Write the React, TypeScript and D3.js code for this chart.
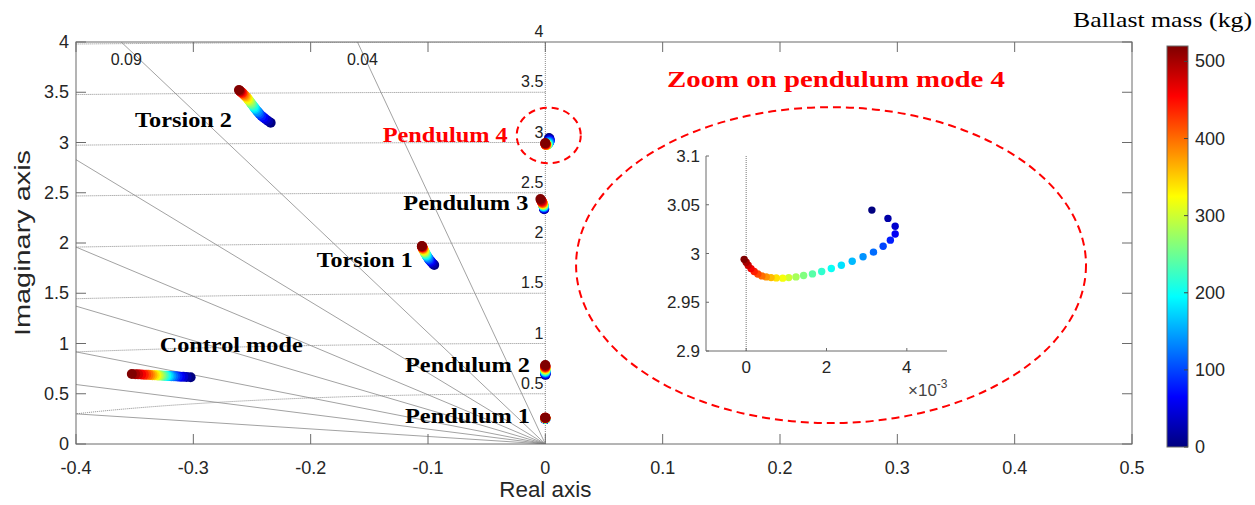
import React from 'react';
import * as d3 from 'd3';

// ---------- DATA ----------
const massValues = [0, 20, 40, 60, 80, 100, 120, 140, 160, 180, 200, 220, 240, 260, 280, 300, 320, 340, 360, 380, 400, 420, 440, 460, 480, 500, 520];

const controlRe = [-0.3023, -0.3057, -0.3086, -0.3112, -0.3134, -0.3154, -0.3171, -0.3188, -0.3203, -0.3217, -0.3231, -0.3245, -0.3259, -0.3274, -0.3288, -0.3302, -0.3316, -0.3331, -0.3348, -0.3365, -0.3382, -0.3402, -0.3422, -0.3444, -0.3470, -0.3495, -0.3524];
const controlIm = [0.664, 0.666, 0.668, 0.670, 0.671, 0.673, 0.674, 0.675, 0.676, 0.677, 0.678, 0.679, 0.680, 0.681, 0.681, 0.682, 0.683, 0.684, 0.685, 0.687, 0.688, 0.689, 0.690, 0.692, 0.693, 0.695, 0.697];

const torsion2Re = [-0.2341, -0.2363, -0.2383, -0.2403, -0.2420, -0.2435, -0.2446, -0.2457, -0.2469, -0.2477, -0.2486, -0.2494, -0.2503, -0.2511, -0.2520, -0.2528, -0.2537, -0.2545, -0.2554, -0.2563, -0.2571, -0.2580, -0.2585, -0.2594, -0.2600, -0.2605, -0.2611];
const torsion2Im = [3.197, 3.214, 3.231, 3.250, 3.267, 3.284, 3.300, 3.313, 3.330, 3.343, 3.357, 3.370, 3.383, 3.396, 3.410, 3.423, 3.436, 3.449, 3.459, 3.469, 3.479, 3.489, 3.496, 3.502, 3.509, 3.516, 3.522];

const torsion1Re = [-0.0947, -0.0958, -0.0970, -0.0978, -0.0987, -0.0993, -0.0998, -0.1004, -0.1010, -0.1013, -0.1018, -0.1021, -0.1024, -0.1027, -0.1030, -0.1032, -0.1035, -0.1038, -0.1041, -0.1044, -0.1044, -0.1047, -0.1047, -0.1049, -0.1049, -0.1052, -0.1052];
const torsion1Im = [1.781, 1.794, 1.808, 1.821, 1.831, 1.841, 1.851, 1.861, 1.871, 1.877, 1.887, 1.894, 1.900, 1.907, 1.914, 1.920, 1.927, 1.934, 1.940, 1.944, 1.950, 1.954, 1.957, 1.960, 1.963, 1.967, 1.970];

const pendulum3Re = [-0.0010, -0.0010, -0.0011, -0.0011, -0.0012, -0.0012, -0.0013, -0.0013, -0.0014, -0.0014, -0.0015, -0.0016, -0.0016, -0.0017, -0.0018, -0.0019, -0.0020, -0.0021, -0.0022, -0.0024, -0.0025, -0.0027, -0.0029, -0.0031, -0.0034, -0.0037, -0.0042];
const pendulum3Im = [2.335, 2.340, 2.344, 2.348, 2.352, 2.356, 2.359, 2.362, 2.365, 2.368, 2.371, 2.374, 2.377, 2.380, 2.383, 2.386, 2.389, 2.392, 2.395, 2.398, 2.401, 2.405, 2.410, 2.415, 2.421, 2.428, 2.437];

const pendulum2Re = [0.0001, 0.0001, 0.0001, 0.0001, 0.0001, 0.0001, 0.0000, 0.0000, 0.0000, 0.0000, 0.0000, 0.0000, 0.0000, 0.0000, 0.0000, 0.0000, 0.0000, 0.0000, 0.0000, 0.0000, 0.0000, 0.0000, 0.0000, 0.0000, 0.0000, 0.0000, 0.0000];
const pendulum2Im = [0.688, 0.693, 0.697, 0.701, 0.705, 0.709, 0.713, 0.716, 0.720, 0.723, 0.727, 0.730, 0.734, 0.737, 0.741, 0.744, 0.748, 0.751, 0.755, 0.758, 0.762, 0.765, 0.769, 0.772, 0.776, 0.780, 0.786];

const pendulum1Re = [0.0000, 0.0000, 0.0000, 0.0000, 0.0000, 0.0000, 0.0000, 0.0000, 0.0000, 0.0000, 0.0000, 0.0000, 0.0000, 0.0000, 0.0000, 0.0000, 0.0000, 0.0000, 0.0000, 0.0000, 0.0000, 0.0000, 0.0000, 0.0000, 0.0000, 0.0000, 0.0000];
const pendulum1Im = [0.248, 0.249, 0.249, 0.250, 0.250, 0.251, 0.251, 0.252, 0.252, 0.253, 0.253, 0.254, 0.254, 0.255, 0.255, 0.256, 0.256, 0.257, 0.257, 0.258, 0.258, 0.259, 0.259, 0.260, 0.260, 0.261, 0.262];

// pendulum 4, real part in units of 1e-3
const pendulum4ReMilli = [3.13, 3.53, 3.71, 3.71, 3.59, 3.41, 3.17, 2.91, 2.64, 2.37, 2.12, 1.88, 1.65, 1.43, 1.24, 1.06, 0.91, 0.75, 0.62, 0.50, 0.39, 0.29, 0.20, 0.12, 0.05, 0.00, -0.05];
const pendulum4Im = [3.0445, 3.036, 3.028, 3.020, 3.0137, 3.0075, 3.0014, 2.9966, 2.9921, 2.988, 2.9846, 2.9815, 2.9791, 2.9774, 2.976, 2.9753, 2.9747, 2.975, 2.9753, 2.976, 2.977, 2.979, 2.9815, 2.9845, 2.988, 2.991, 2.994];

const xTicks = [-0.4, -0.3, -0.2, -0.1, 0, 0.1, 0.2, 0.3, 0.4, 0.5];
const yTicks = [0, 0.5, 1, 1.5, 2, 2.5, 3, 3.5, 4];
const dampingValues = [0.04, 0.09, 0.14, 0.2, 0.28, 0.4, 0.56, 0.8];
const frequencyValues = [0.5, 1, 1.5, 2, 2.5, 3, 3.5, 4];
const colorbarTicks = [0, 100, 200, 300, 400, 500];
const insetXTicks = [0, 2, 4];
const insetYTicks = [2.9, 2.95, 3, 3.05, 3.1];

const modeLabels = [
  { text: 'Torsion 2', x: -0.3497, y: 3.157, w: 97, color: '#000' },
  { text: 'Torsion 1', x: -0.1948, y: 1.764, w: 96, color: '#000' },
  { text: 'Pendulum 3', x: -0.1210, y: 2.328, w: 125, color: '#000' },
  { text: 'Pendulum 4', x: -0.1386, y: 3.008, w: 125, color: '#ff0000' },
  { text: 'Pendulum 2', x: -0.1196, y: 0.719, w: 125, color: '#000' },
  { text: 'Pendulum 1', x: -0.1196, y: 0.206, w: 125, color: '#000' },
  { text: 'Control mode', x: -0.3287, y: 0.918, w: 143, color: '#000' },
];

// ---------- LAYOUT ----------
const W = 1255, H = 505;
const plot = { left: 76, right: 1132, top: 42, bottom: 444 };
const inset = { left: 706, right: 947, top: 156, bottom: 351 };
const cbar = { left: 1167, right: 1188, top: 46, bottom: 447 };
const massMax = 520;
const sans = 'Liberation Sans, Arial, Helvetica, sans-serif';
const serif = 'Liberation Serif, Times New Roman, serif';
const axisColor = '#6b6b6b';

function jet(t: number): string {
  const c = (v: number) => Math.max(0, Math.min(1, v));
  const r = c(1.5 - Math.abs(4 * t - 3));
  const g = c(1.5 - Math.abs(4 * t - 2));
  const b = c(1.5 - Math.abs(4 * t - 1));
  return d3.rgb(r * 255, g * 255, b * 255).formatHex();
}

export default function App() {
  const x = d3.scaleLinear().domain([-0.4, 0.5]).range([plot.left, plot.right]);
  const y = d3.scaleLinear().domain([0, 4]).range([plot.bottom, plot.top]);
  const xi = d3.scaleLinear().domain([-1, 5]).range([inset.left, inset.right]);
  const yi = d3.scaleLinear().domain([2.9, 3.1]).range([inset.bottom, inset.top]);
  const yc = d3.scaleLinear().domain([0, massMax]).range([cbar.bottom, cbar.top]);
  const color = (m: number) => jet(m / massMax);

  const modes = [
    { re: controlRe, im: controlIm },
    { re: torsion2Re, im: torsion2Im },
    { re: torsion1Re, im: torsion1Im },
    { re: pendulum3Re, im: pendulum3Im },
    { re: pendulum2Re, im: pendulum2Im },
    { re: pendulum1Re, im: pendulum1Im },
    { re: pendulum4ReMilli.map((v) => v / 1000), im: pendulum4Im },
  ];

  // frequency semicircles
  const circleLine = d3.line<[number, number]>().x((d) => x(d[0])).y((d) => y(d[1]));
  const freqPaths = frequencyValues.map((w) => {
    const xmin = Math.max(-0.4, -w);
    const pts: [number, number][] = d3.range(0, 201).map((i) => {
      const xv = (xmin * i) / 200;
      return [xv, Math.sqrt(Math.max(0, w * w - xv * xv))];
    });
    return { w, d: circleLine(pts) };
  });

  // damping rays
  const rays = dampingValues.map((z) => {
    const s = Math.sqrt(1 - z * z);
    const r = Math.min(0.4 / z, 4 / s);
    return { z, x2: -z * r, y2: s * r, top: 4 / s <= 0.4 / z };
  });

  const gradId = 'jetgrad';
  const gradStops = d3.range(0, 65).map((i) => i / 64);

  // Pendulum 4 zoom annotations in data units
  const smallEll = { cx: 0.0029, cy: 3.07, rx: 0.0273, ry: 0.277 };
  const bigEll = { cx: 0.2435, cy: 1.78, rx: 0.2173, ry: 1.572 };

  return (
    <svg width={W} height={H} style={{ position: 'absolute', left: 0, top: 0, background: '#fff' }}>
      <defs>
        <linearGradient id={gradId} x1="0" y1="1" x2="0" y2="0">
          {gradStops.map((t) => (
            <stop key={t} offset={t} stopColor={jet(t)} />
          ))}
        </linearGradient>
        <clipPath id="plotclip">
          <rect x={plot.left} y={plot.top} width={plot.right - plot.left} height={plot.bottom - plot.top} />
        </clipPath>
      </defs>
      <rect x={0} y={0} width={W} height={H} fill="#fff" />

      {/* grid */}
      <g clipPath="url(#plotclip)">
        {rays.map((r) => (
          <line key={r.z} x1={x(0)} y1={y(0)} x2={x(r.x2)} y2={y(r.y2)} stroke="#7a7a7a" strokeWidth={0.7} />
        ))}
        {freqPaths.map((p) => (
          <path key={p.w} d={p.d || ''} fill="none" stroke="#8a8a8a" strokeWidth={1} strokeDasharray="1,1" />
        ))}
        <line x1={x(0)} y1={y(0)} x2={x(0)} y2={y(4)} stroke="#8a8a8a" strokeWidth={1} strokeDasharray="1,1" />
      </g>
      {rays.filter((r) => r.top).map((r) => (
        <text key={r.z} x={x(r.x2) + 5} y={plot.top + 23} fontFamily={sans} fontSize={16} textAnchor="middle" fill="#222">
          {String(r.z)}
        </text>
      ))}
      {frequencyValues.map((w) => (
        <text key={w} x={x(0) - 2} y={y(w) - 5} fontFamily={sans} fontSize={16} textAnchor="end" fill="#222">
          {String(w)}
        </text>
      ))}

      {/* axes box */}
      <rect x={plot.left} y={plot.top} width={plot.right - plot.left} height={plot.bottom - plot.top} fill="none" stroke={axisColor} strokeWidth={1} />
      {xTicks.map((t) => (
        <g key={'xt' + t}>
          <line x1={x(t)} x2={x(t)} y1={plot.bottom} y2={plot.bottom - 10} stroke={axisColor} />
          <line x1={x(t)} x2={x(t)} y1={plot.top} y2={plot.top + 10} stroke={axisColor} />
          <text x={x(t)} y={plot.bottom + 30} fontFamily={sans} fontSize={18} textAnchor="middle" fill="#262626">
            {String(t)}
          </text>
        </g>
      ))}
      {yTicks.map((t) => (
        <g key={'yt' + t}>
          <line x1={plot.left} x2={plot.left + 10} y1={y(t)} y2={y(t)} stroke={axisColor} />
          <line x1={plot.right} x2={plot.right - 10} y1={y(t)} y2={y(t)} stroke={axisColor} />
          <text x={plot.left - 7} y={y(t) + 6} fontFamily={sans} fontSize={18} textAnchor="end" fill="#262626">
            {String(t)}
          </text>
        </g>
      ))}
      <text x={x(0)} y={497} fontFamily={sans} fontSize={22} textAnchor="middle" fill="#262626" textLength={92} lengthAdjust="spacingAndGlyphs">Real axis</text>
      <text transform={`translate(30,${(plot.top + plot.bottom) / 2}) rotate(-90)`} fontFamily={sans} fontSize={22} textAnchor="middle" fill="#262626" textLength={186} lengthAdjust="spacingAndGlyphs">Imaginary axis</text>

      {/* mode markers */}
      {modes.map((m, mi) => (
        <g key={mi}>
          {massValues.map((mass, i) => (
            <circle key={i} cx={x(m.re[i])} cy={y(m.im[i])} r={5} fill={color(mass)} />
          ))}
        </g>
      ))}

      {/* mode labels */}
      {modeLabels.map((l) => (
        <text key={l.text} x={x(l.x)} y={y(l.y)} fontFamily={serif} fontWeight="bold" fontSize={21} fill={l.color} textLength={l.w} lengthAdjust="spacingAndGlyphs">
          {l.text}
        </text>
      ))}

      {/* zoom annotation */}
      <ellipse cx={x(smallEll.cx)} cy={y(smallEll.cy)} rx={x(smallEll.rx) - x(0)} ry={y(0) - y(smallEll.ry)} fill="none" stroke="#ff0000" strokeWidth={2} strokeDasharray="7,5" />
      <ellipse cx={x(bigEll.cx)} cy={y(bigEll.cy)} rx={x(bigEll.rx) - x(0)} ry={y(0) - y(bigEll.ry)} fill="none" stroke="#ff0000" strokeWidth={2} strokeDasharray="8,5" />
      <text x={x(0.1037)} y={y(3.552)} fontFamily={serif} fontWeight="bold" fontSize={24} fill="#ff0000" textLength={338} lengthAdjust="spacingAndGlyphs">
        Zoom on pendulum mode 4
      </text>

      {/* inset */}
      <rect x={inset.left} y={inset.top} width={inset.right - inset.left} height={inset.bottom - inset.top} fill="#fff" />
      <line x1={xi(0)} x2={xi(0)} y1={inset.top} y2={inset.bottom} stroke="#777" strokeWidth={1} strokeDasharray="1,1" />
      <line x1={inset.left} x2={inset.left} y1={inset.top} y2={inset.bottom} stroke={axisColor} />
      <line x1={inset.left} x2={inset.right} y1={inset.bottom} y2={inset.bottom} stroke={axisColor} />
      {insetYTicks.map((t) => (
        <g key={'iy' + t}>
          <line x1={inset.left} x2={inset.left + 3} y1={yi(t)} y2={yi(t)} stroke={axisColor} />
          <text x={inset.left - 6} y={yi(t) + 6} fontFamily={sans} fontSize={17} textAnchor="end" fill="#262626">{String(t)}</text>
        </g>
      ))}
      {insetXTicks.map((t) => (
        <g key={'ix' + t}>
          <line x1={xi(t)} x2={xi(t)} y1={inset.bottom} y2={inset.bottom - 3} stroke={axisColor} />
          <text x={xi(t)} y={inset.bottom + 22} fontFamily={sans} fontSize={17} textAnchor="middle" fill="#262626">{String(t)}</text>
        </g>
      ))}
      <text x={inset.right - 39} y={inset.bottom + 45} fontFamily={sans} fontSize={17} fill="#444">
        ×10<tspan dy={-8} fontSize={12}>-3</tspan>
      </text>
      {massValues.map((mass, i) => (
        <circle key={'p4' + i} cx={xi(pendulum4ReMilli[i])} cy={yi(pendulum4Im[i])} r={3.7} fill={color(mass)} />
      ))}

      {/* colorbar */}
      <rect x={cbar.left} y={cbar.top} width={cbar.right - cbar.left} height={cbar.bottom - cbar.top} fill={`url(#${gradId})`} stroke="#6b6b6b" strokeWidth={1} />
      {colorbarTicks.map((t) => (
        <g key={'ct' + t}>
          <line x1={cbar.right} x2={cbar.right - 4} y1={yc(t)} y2={yc(t)} stroke="#444" />
          <text x={cbar.right + 7} y={yc(t) + 6} fontFamily={sans} fontSize={18} fill="#262626">{String(t)}</text>
        </g>
      ))}
      <text x={1073} y={27} fontFamily={serif} fontSize={21} fill="#000" textLength={179} lengthAdjust="spacingAndGlyphs">Ballast mass (kg)</text>
    </svg>
  );
}
